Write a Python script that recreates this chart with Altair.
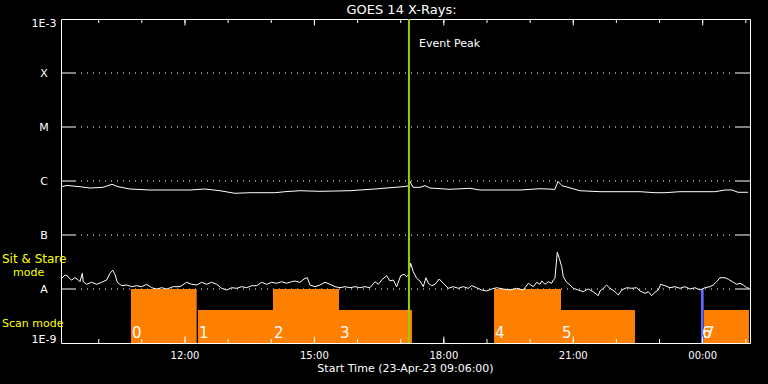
import altair as alt
import pandas as pd

FONT = "DejaVu Sans"
WHITE = "white"
YELLOW = "#ffff00"
ORANGE = "#ff8000"
BLUE = "#6464ff"
GREEN = "#99cc00"

# x: hours after 00:00 on 23-Apr-23 (values above 24 fall on 24-Apr)
X_DOMAIN = [9.126, 25.097]
Y_DOMAIN = [1e-9, 1e-3]

# GOES 14 long channel (1-8 A), log10 flux
LONG_HOURS = [9.126, 9.265, 9.566, 9.798, 10.099, 10.308, 10.447, 10.725, 11.189, 12.116,
              12.464, 12.811, 13.159, 13.507, 14.086, 14.318, 14.666, 15.129, 15.825, 16.404,
              16.868, 17.099, 17.169, 17.215, 17.285, 17.447, 17.563, 17.679, 18.143, 18.606,
              18.838, 19.765, 20.229, 20.576, 20.646, 20.739, 20.878, 21.156, 21.620, 22.547,
              22.894, 23.126, 23.474, 24.285, 24.517, 24.680, 24.819, 25.050]
LONG_LOG_FLUX = [-6.106, -6.083, -6.106, -6.130, -6.117, -6.061, -6.106, -6.148, -6.167, -6.167,
                 -6.148, -6.180, -6.228, -6.217, -6.217, -6.198, -6.180, -6.191, -6.180, -6.148,
                 -6.117, -6.102, -6.093, -6.006, -6.117, -6.117, -6.087, -6.130, -6.154, -6.135,
                 -6.167, -6.167, -6.143, -6.154, -6.006, -6.087, -6.117, -6.180, -6.198, -6.198,
                 -6.217, -6.217, -6.198, -6.198, -6.167, -6.167, -6.209, -6.209]

# GOES 14 short channel (0.5-4 A), log10 flux
SHORT_HOURS = [9.142, 9.218, 9.272, 9.318, 9.374, 9.450, 9.527, 9.566, 9.619, 9.642,
               9.721, 9.837, 9.953, 10.069, 10.185, 10.261, 10.324, 10.377, 10.431, 10.533,
               10.648, 10.764, 10.880, 10.996, 11.112, 11.228, 11.344, 11.460, 11.576, 11.729,
               11.884, 12.039, 12.155, 12.271, 12.387, 12.503, 12.619, 12.735, 12.851, 12.967,
               13.082, 13.198, 13.314, 13.430, 13.546, 13.662, 13.778, 13.894, 14.010, 14.126,
               14.241, 14.357, 14.473, 14.550, 14.666, 14.782, 14.835, 14.897, 15.013, 15.129,
               15.245, 15.361, 15.477, 15.593, 15.709, 15.825, 15.941, 16.056, 16.172, 16.288,
               16.404, 16.481, 16.559, 16.675, 16.752, 16.828, 16.907, 17.000, 17.076, 17.139,
               17.176, 17.232, 17.292, 17.370, 17.447, 17.524, 17.586, 17.640, 17.718, 17.795,
               17.894, 17.987, 18.103, 18.219, 18.335, 18.451, 18.567, 18.646, 18.761, 18.877,
               18.993, 19.109, 19.225, 19.378, 19.534, 19.689, 19.842, 19.881, 19.958, 20.074,
               20.152, 20.229, 20.268, 20.345, 20.421, 20.500, 20.537, 20.576, 20.630, 20.676,
               20.732, 20.769, 20.847, 20.924, 21.001, 21.117, 21.233, 21.348, 21.464, 21.580,
               21.620, 21.696, 21.775, 21.851, 21.967, 22.044, 22.123, 22.238, 22.354, 22.470,
               22.547, 22.663, 22.739, 22.818, 22.894, 22.971, 23.026, 23.126, 23.242, 23.358,
               23.474, 23.590, 23.706, 23.822, 23.938, 24.053, 24.169, 24.246, 24.325, 24.401,
               24.517, 24.594, 24.710, 24.788, 24.865, 24.942, 25.020, 25.080]
SHORT_LOG_FLUX = [-7.802, -7.741, -7.754, -7.802, -7.833, -7.791, -7.833, -7.865, -7.709, -7.865,
                  -7.913, -7.876, -7.913, -7.876, -7.833, -7.709, -7.654, -7.728, -7.876, -7.939,
                  -7.926, -7.957, -7.939, -7.957, -7.913, -7.976, -8.000, -7.976, -8.000, -7.957,
                  -7.957, -7.876, -7.913, -7.926, -7.876, -7.913, -7.876, -7.913, -7.987, -8.019,
                  -7.976, -7.987, -7.957, -7.976, -7.939, -7.939, -7.876, -7.913, -7.876, -7.894,
                  -7.865, -7.894, -7.865, -7.852, -7.876, -7.802, -7.791, -7.926, -7.957, -7.926,
                  -7.876, -7.913, -7.957, -7.976, -7.957, -7.976, -7.957, -7.976, -7.957, -7.976,
                  -7.865, -7.913, -7.833, -7.754, -7.852, -7.833, -7.957, -7.754, -7.728, -7.772,
                  -7.741, -7.524, -7.680, -7.802, -7.852, -7.957, -7.791, -7.894, -7.939, -7.913,
                  -7.815, -7.894, -7.987, -7.957, -7.987, -7.957, -7.987, -7.939, -7.976, -8.019,
                  -8.037, -8.000, -7.976, -8.000, -8.019, -7.987, -8.019, -7.976, -7.894, -7.957,
                  -7.876, -7.913, -7.852, -7.913, -7.865, -7.894, -7.833, -7.802, -7.320, -7.431,
                  -7.587, -7.772, -7.876, -7.926, -7.987, -8.019, -8.050, -8.000, -8.050, -8.124,
                  -8.037, -7.987, -7.926, -7.987, -8.050, -8.111, -8.019, -7.976, -7.987, -7.976,
                  -8.037, -8.080, -8.050, -8.124, -8.061, -8.019, -7.913, -7.939, -7.976, -7.957,
                  -7.987, -7.957, -8.000, -7.976, -8.019, -7.976, -7.957, -7.926, -7.865, -7.791,
                  -7.791, -7.820, -7.876, -7.913, -7.894, -7.926, -7.976, -7.987]

LEVELS = [1e-9, 1e-8, 1e-7, 1e-6, 1e-5, 1e-4, 1e-3]
LEVEL_LABELS = ["1E-9", "A", "B", "C", "M", "X", "1E-3"]
CLASS_LEVELS = [1e-8, 1e-7, 1e-6, 1e-5, 1e-4]

# Observation bars (IRIS-like raster timeline)
BAR_START = [10.748, 12.301, 14.040, 15.570, 19.163, 20.716, 23.961, 24.030]
BAR_END = [12.271, 14.040, 15.570, 17.262, 20.716, 22.431, 24.023, 25.073]
BAR_TOP = [1e-8, 4.08e-9, 1e-8, 4.08e-9, 1e-8, 4.08e-9, 1e-8, 4.08e-9]
BAR_KIND = ["Sit & Stare", "Scan", "Sit & Stare", "Scan", "Sit & Stare", "Scan", "Other", "Scan"]
BAR_LABEL = ["0", "1", "2", "3", "4", "5", "6", "7"]

PEAK_HOUR = 17.192
MAJOR_HOURS = [12, 15, 18, 21, 24]
MAJOR_LABELS = ["12:00", "15:00", "18:00", "21:00", "00:00"]
MINOR_HOURS = [10, 11, 13, 14, 16, 17, 19, 20, 22, 23, 25]

TITLE = "GOES 14 X-Rays:"
X_TITLE = "Start Time (23-Apr-23 09:06:00)"

W, H = 689, 324

curves = pd.concat([
    pd.DataFrame({"hour": LONG_HOURS, "flux": [10 ** v for v in LONG_LOG_FLUX], "series": "long"}),
    pd.DataFrame({"hour": SHORT_HOURS, "flux": [10 ** v for v in SHORT_LOG_FLUX], "series": "short"}),
])
bars = pd.DataFrame({"start": BAR_START, "end": BAR_END, "top": BAR_TOP,
                     "bottom": Y_DOMAIN[0], "kind": BAR_KIND, "label": BAR_LABEL})
levels_df = pd.DataFrame({"level": CLASS_LEVELS})
class_lab_df = pd.DataFrame({"level": LEVELS[1:-1], "label": LEVEL_LABELS[1:-1]})
top_lab_df = pd.DataFrame({"level": LEVELS[-1:], "label": LEVEL_LABELS[-1:]})
bot_lab_df = pd.DataFrame({"level": LEVELS[:1], "label": LEVEL_LABELS[:1]})
major_df = pd.DataFrame({"hour": MAJOR_HOURS, "label": MAJOR_LABELS})
all_hours_df = pd.DataFrame({"hour": MAJOR_HOURS + MINOR_HOURS})
peak_df = pd.DataFrame({"hour": [PEAK_HOUR], "text": ["Event Peak"]})

xs = alt.Scale(domain=X_DOMAIN, nice=False, zero=False)
ys = alt.Scale(type="log", domain=Y_DOMAIN, nice=False)


def X(field):
    return alt.X(field, scale=xs, axis=None)


def Y(field):
    return alt.Y(field, scale=ys, axis=None)


grid = alt.Chart(levels_df).mark_rule(color=WHITE, strokeWidth=1, strokeDash=[1, 5]).encode(
    y=Y("level:Q"), x=alt.value(14), x2=alt.value(W - 14))
ytick_l = alt.Chart(levels_df).mark_rule(color=WHITE, strokeWidth=1).encode(
    y=Y("level:Q"), x=alt.value(0), x2=alt.value(14))
ytick_r = alt.Chart(levels_df).mark_rule(color=WHITE, strokeWidth=1).encode(
    y=Y("level:Q"), x=alt.value(W - 14), x2=alt.value(W))

bar_layer = alt.Chart(bars).mark_rect().encode(
    x=X("start:Q"), x2="end:Q", y=Y("bottom:Q"), y2="top:Q",
    color=alt.Color("kind:N", scale=alt.Scale(domain=["Sit & Stare", "Scan", "Other"],
                                              range=[ORANGE, ORANGE, BLUE]), legend=None))
bar_text = alt.Chart(bars).mark_text(align="left", baseline="alphabetic", dx=1, fontSize=15,
                                     color=WHITE, font=FONT).encode(
    x=X("start:Q"), y=alt.value(319), text="label:N")

lines = alt.Chart(curves).mark_line(color=WHITE, strokeWidth=1).encode(
    x=X("hour:Q"), y=Y("flux:Q"), detail="series:N")

peak_line = alt.Chart(peak_df).mark_rule(color=GREEN, strokeWidth=2).encode(x=X("hour:Q"))
peak_text = alt.Chart(peak_df).mark_text(align="left", baseline="alphabetic", dx=10,
                                         fontSize=11, color=WHITE, font=FONT).encode(
    x=X("hour:Q"), y=alt.value(27.7), text="text:N")

xtick_b = alt.Chart(all_hours_df).mark_rule(color=WHITE, strokeWidth=1).encode(
    x=X("hour:Q"), y=alt.value(H), y2=alt.value(H - 4))
xtick_t = alt.Chart(all_hours_df).mark_rule(color=WHITE, strokeWidth=1).encode(
    x=X("hour:Q"), y=alt.value(0), y2=alt.value(4))
xtick_bm = alt.Chart(major_df).mark_rule(color=WHITE, strokeWidth=1).encode(
    x=X("hour:Q"), y=alt.value(H), y2=alt.value(H - 6.5))
xtick_tm = alt.Chart(major_df).mark_rule(color=WHITE, strokeWidth=1).encode(
    x=X("hour:Q"), y=alt.value(0), y2=alt.value(6.5))

# axis labels (drawn through the scales)
x_labels = alt.Chart(major_df).mark_text(align="center", baseline="alphabetic", fontSize=10,
                                         color=WHITE, font=FONT).encode(
    x=X("hour:Q"), y=alt.value(H + 16.3), text="label:N")


def y_labels(df, dy):
    return alt.Chart(df).mark_text(align="center", baseline="alphabetic", fontSize=11, dy=dy,
                                   color=WHITE, font=FONT).encode(
        x=alt.value(-17), y=Y("level:Q"), text="label:N")


def free_text(txt, x, y, color=WHITE, size=11, align="left"):
    return alt.Chart(pd.DataFrame({"t": [txt]})).mark_text(
        align=align, baseline="alphabetic", fontSize=size, color=color, font=FONT
    ).encode(x=alt.value(x), y=alt.value(y), text="t:N")


chart = alt.layer(
    grid, ytick_l, ytick_r, bar_layer, lines, peak_line, xtick_b, xtick_t, xtick_bm, xtick_tm,
    bar_text, peak_text, x_labels,
    y_labels(class_lab_df, 4), y_labels(top_lab_df, 7.7), y_labels(bot_lab_df, 0),
    free_text(TITLE, W / 2 - 4, -5, size=13, align="center"),
    free_text(X_TITLE, W / 2, H + 29, size=11, align="center"),
    free_text("Sit & Stare", -59, 244.3, color=YELLOW, size=12),
    free_text("mode", -48, 256.5, color=YELLOW),
    free_text("Scan mode", -59, 308.3, color=YELLOW),
).properties(
    width=W, height=H,
    autosize=alt.AutoSizeParams(type="none"),
    padding={"left": 61, "top": 19, "right": 18, "bottom": 41},
).configure(background="black").configure_view(stroke=WHITE, strokeWidth=1)

chart.save("out.html", embed_options={"renderer": "svg", "actions": False})
